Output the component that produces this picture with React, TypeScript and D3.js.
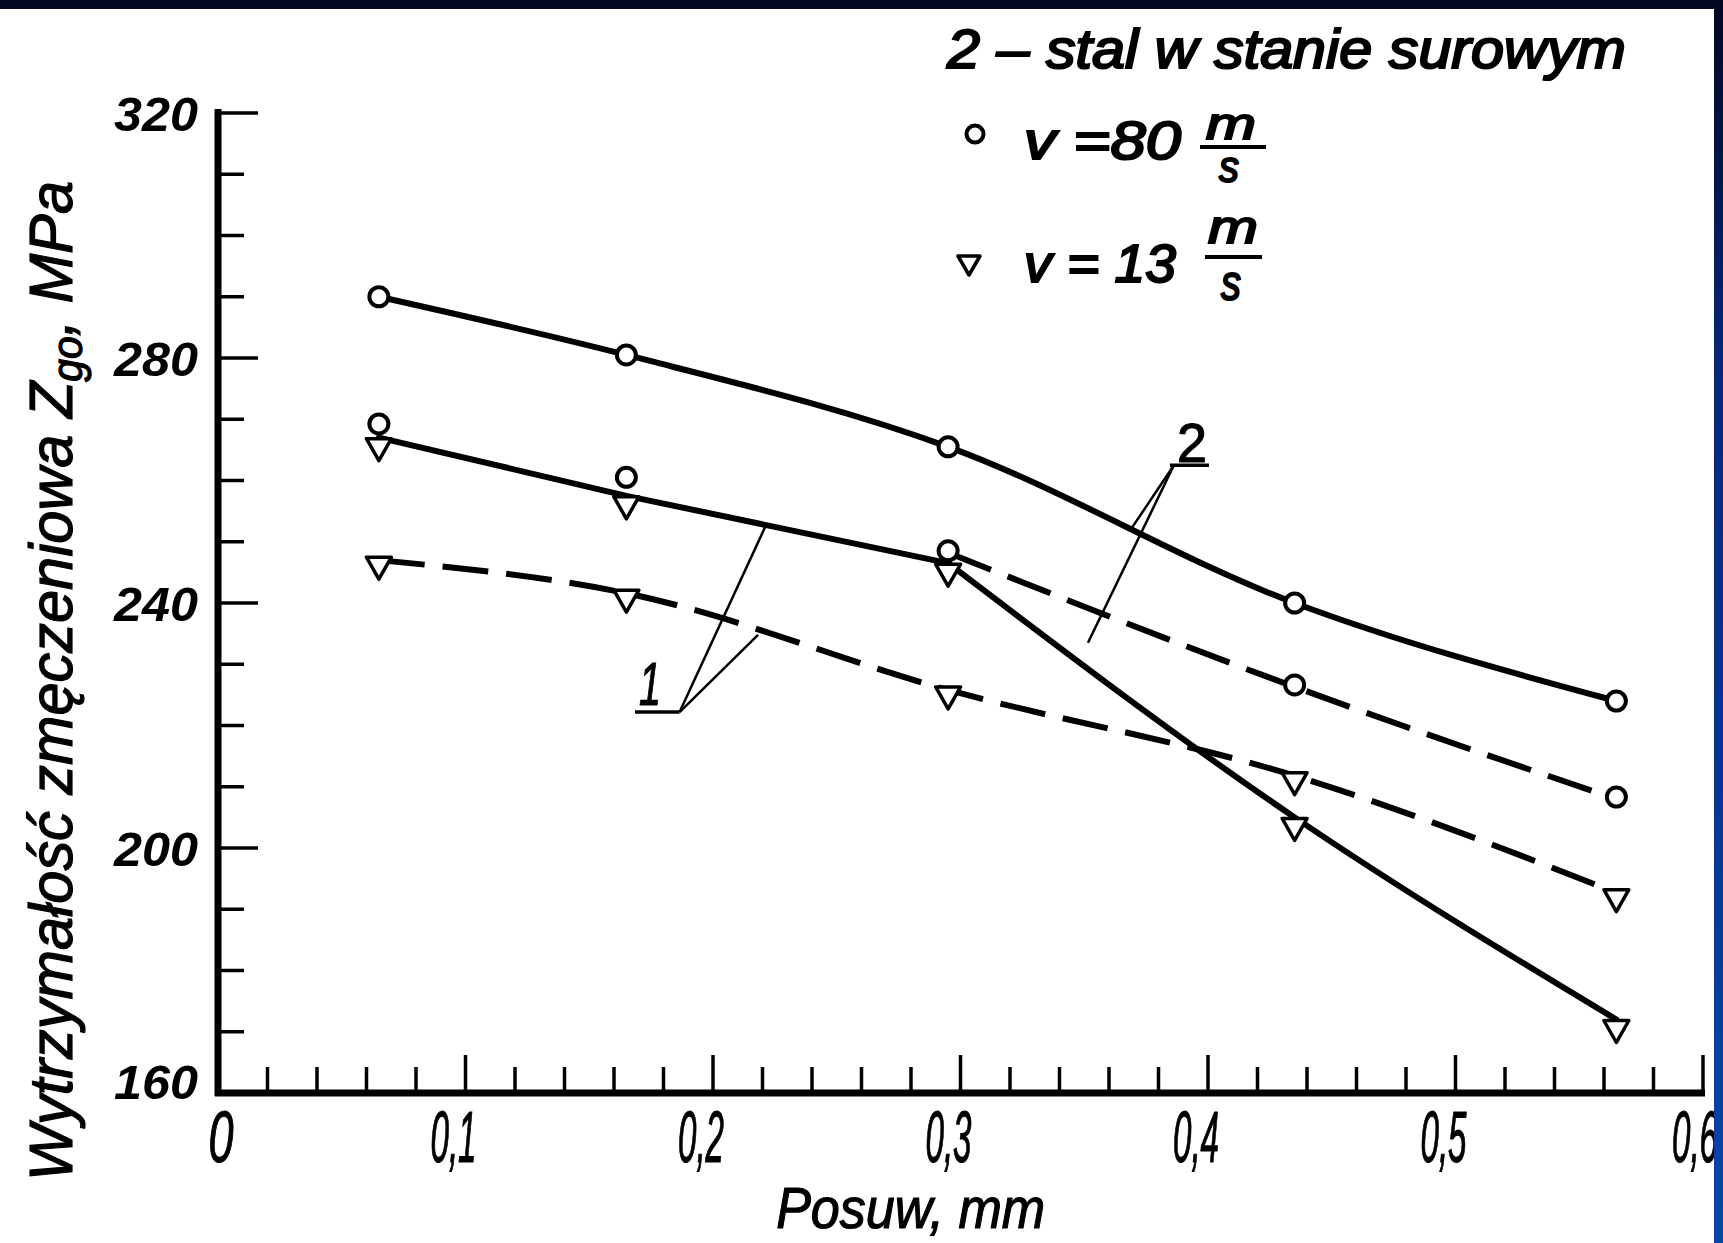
import React from 'react';
import * as d3 from 'd3';

// ---------- data ----------
const feed = [0.065, 0.165, 0.295, 0.435, 0.565];
// curve 2 (stal w stanie surowym), v = 80 m/s : solid, circles
const raw80 = [290, 280.5, 265.5, 240, 224];
// curve 2, v = 13 m/s : solid, triangles
const raw13 = [267, 257.5, 246.5, 205, 172];
const raw13BendAt = 2;
// curve 1, v = 80 m/s : circles, dashed beyond 0.3
const heat80 = [268.9, 260.2, 248.2, 226.3, 208];
const heat80DashFrom = 2;
// curve 1, v = 13 m/s : dashed, triangles
const heat13 = [247, 241.6, 225.8, 211.8, 192.7];

const yMajor = [160, 200, 240, 280, 320];
const yLabels = ['160', '200', '240', '280', '320'];
const xMajor = [0, 0.1, 0.2, 0.3, 0.4, 0.5, 0.6];
const xLabels = ['0', '0,1', '0,2', '0,3', '0,4', '0,5', '0,6'];

const yTitle = 'Wytrzymałość zmęczeniowa ';
const xTitle = 'Posuw, mm';
const legendTitle = '2 – stal w stanie surowym';
const legendV80 = 'v =80';
const legendV13 = 'v = 13';

// annotation anchors in data units [feed, MPa]
const ann1Label: [number, number] = [0.1745, 223.3];
const ann1Under: [number, number][] = [[0.1685, 222.2], [0.1865, 222.2]];
const ann1Targets: [number, number][] = [[0.2214, 252.7], [0.2182, 234.8]];
const ann2Label: [number, number] = [0.3935, 263];
const ann2Under: [number, number][] = [[0.3846, 262.5], [0.4004, 262.5]];
const ann2Targets: [number, number][] = [[0.3693, 252.3], [0.3515, 233.5]];

const W = 1723;
const H = 1243;
const FONT = "'Liberation Sans', Arial, sans-serif";

export default function App() {
  const x = d3.scaleLinear().domain([0, 0.6]).range([218, 1703]);
  const y = d3.scaleLinear().domain([160, 320]).range([1093, 113]);

  const smooth = d3
    .line<[number, number]>()
    .x((d) => x(d[0]))
    .y((d) => y(d[1]))
    .curve(d3.curveMonotoneX);
  const straight = d3
    .line<[number, number]>()
    .x((d) => x(d[0]))
    .y((d) => y(d[1]))
    .curve(d3.curveLinear);

  const pts = (vals: number[]) => vals.map((v, i) => [feed[i], v] as [number, number]);

  const yMinor = d3.range(160, 321, 10).filter((v) => !yMajor.includes(v));
  const xMinor = d3.range(0, 0.6001, 0.02).filter((v) => !xMajor.some((m) => Math.abs(m - v) < 1e-6));

  const circle = (cx: number, cy: number, key: string) => (
    <circle key={key} cx={cx} cy={cy} r={9.5} fill="#fff" stroke="#000" strokeWidth={4} />
  );
  const triHang = (cx: number, top: number, key: string) => (
    <path
      key={key}
      d={`M${cx - 12.5},${top} L${cx + 12.5},${top} L${cx},${top + 22} Z`}
      fill="#fff"
      stroke="#000"
      strokeWidth={3.5}
      strokeLinejoin="round"
    />
  );

  const lineStyle = { fill: 'none', stroke: '#000', strokeWidth: 6, strokeLinecap: 'round' as const };
  const ink = { stroke: '#000', strokeWidth: 1.2 };

  return (
    <svg
      width={W}
      height={H}
      viewBox={`0 0 ${W} ${H}`}
      style={{ position: 'fixed', left: 0, top: 0, display: 'block', background: '#fff' }}
    >
      <defs>
        <linearGradient id="rb" x1="0" y1="0" x2="0" y2="1">
          <stop offset="0" stopColor="#020822" />
          <stop offset="0.3" stopColor="#07287a" />
          <stop offset="1" stopColor="#0a44ae" />
        </linearGradient>
      </defs>
      <rect x={0} y={0} width={W} height={H} fill="#fff" />

      {/* y axis */}
      <line x1={x(0)} x2={x(0)} y1={y(320) - 4} y2={y(160) + 3} stroke="#000" strokeWidth={7} />
      {yMajor.map((v) => (
        <line key={'ym' + v} x1={x(0)} x2={x(0) + 40} y1={y(v)} y2={y(v)} stroke="#000" strokeWidth={3.5} />
      ))}
      {yMinor.map((v) => (
        <line key={'yn' + v} x1={x(0)} x2={x(0) + 26} y1={y(v)} y2={y(v)} stroke="#000" strokeWidth={3.5} />
      ))}
      {yMajor.map((v, i) => (
        <text
          key={'yl' + v}
          x={198}
          y={y(v) + (v === 160 ? 6 : 18)}
          textAnchor="end"
          fontFamily={FONT}
          fontStyle="italic"
          fontWeight="bold"
          fontSize={49}
          textLength={84}
          lengthAdjust="spacingAndGlyphs"
        >
          {yLabels[i]}
        </text>
      ))}

      {/* x axis */}
      <line x1={x(0) - 3} x2={x(0.6) + 2} y1={y(160)} y2={y(160)} stroke="#000" strokeWidth={7} />
      {xMajor.filter((v) => v > 0).map((v) => (
        <line key={'xm' + v} x1={x(v)} x2={x(v)} y1={y(160)} y2={y(160) - 38} stroke="#000" strokeWidth={3.5} />
      ))}
      {xMinor.map((v, i) => (
        <line key={'xn' + i} x1={x(v)} x2={x(v)} y1={y(160)} y2={y(160) - 26} stroke="#000" strokeWidth={3.5} />
      ))}
      {xMajor.map((v, i) => (
        <text
          key={'xl' + v}
          x={v === 0 ? x(v) + 3 : v === 0.6 ? x(v) - 8 : x(v) - 12}
          y={1162}
          textAnchor="middle"
          fontFamily={FONT}
          fontStyle="italic"
          fontSize={72}
          textLength={v === 0 ? 25 : 46}
          lengthAdjust="spacingAndGlyphs"
          {...ink}
        >
          {xLabels[i]}
        </text>
      ))}

      {/* axis titles */}
      <text
        x={(x(0.2) + x(0.35)) / 2 + 12}
        y={1228}
        textAnchor="middle"
        fontFamily={FONT}
        fontStyle="italic"
        fontSize={58}
        textLength={269}
        lengthAdjust="spacingAndGlyphs"
        {...ink}
      >
        {xTitle}
      </text>
      <text
        transform={`translate(72, ${(y(160) + y(320)) / 2 + 78}) rotate(-90)`}
        textAnchor="middle"
        fontFamily={FONT}
        fontStyle="italic"
        fontSize={61}
        textLength={1000}
        lengthAdjust="spacingAndGlyphs"
        {...ink}
      >
        {yTitle}
        <tspan>Z</tspan>
        <tspan dy={10} fontSize={42}>go</tspan>
        <tspan dy={-10}>, MPa</tspan>
      </text>

      {/* curves */}
      <path d={smooth(pts(raw80)) || ''} {...lineStyle} />
      <path d={straight(pts(raw13).slice(0, raw13BendAt + 1)) || ''} {...lineStyle} strokeLinejoin="round" />
      <path d={smooth(pts(raw13).slice(raw13BendAt)) || ''} {...lineStyle} />
      <path
        d={smooth(pts(heat80).slice(heat80DashFrom)) || ''}
        {...lineStyle}
        strokeLinecap="butt"
        strokeDasharray="46 18"
      />
      <path d={smooth(pts(heat13)) || ''} {...lineStyle} strokeLinecap="butt" strokeDasharray="46 18" />

      {/* markers */}
      {raw80.map((v, i) => circle(x(feed[i]), y(v), 'c80r' + i))}
      {heat80.map((v, i) => circle(x(feed[i]), y(v) - 2, 'c80h' + i))}
      {raw13.map((v, i) => triHang(x(feed[i]), y(v) + 1, 't13r' + i))}
      {heat13.map((v, i) => triHang(x(feed[i]), y(v) - 3, 't13h' + i))}

      {/* annotations */}
      <text
        x={x(ann1Label[0])}
        y={y(ann1Label[1])}
        textAnchor="middle"
        fontFamily={FONT}
        fontStyle="italic"
        fontSize={62}
        textLength={22}
        lengthAdjust="spacingAndGlyphs"
        {...ink}
      >
        1
      </text>
      <line
        x1={x(ann1Under[0][0])}
        x2={x(ann1Under[1][0])}
        y1={y(ann1Under[0][1])}
        y2={y(ann1Under[1][1])}
        stroke="#000"
        strokeWidth={3.5}
      />
      {ann1Targets.map((t, i) => (
        <line
          key={'a1' + i}
          x1={x(ann1Under[1][0])}
          y1={y(ann1Under[1][1])}
          x2={x(t[0])}
          y2={y(t[1])}
          stroke="#000"
          strokeWidth={2.5}
        />
      ))}
      <text
        x={x(ann2Label[0])}
        y={y(ann2Label[1])}
        textAnchor="middle"
        fontFamily={FONT}
        fontSize={56}
        textLength={30}
        lengthAdjust="spacingAndGlyphs"
        {...ink}
      >
        2
      </text>
      <line
        x1={x(ann2Under[0][0])}
        x2={x(ann2Under[1][0])}
        y1={y(ann2Under[0][1])}
        y2={y(ann2Under[1][1])}
        stroke="#000"
        strokeWidth={3.5}
      />
      {ann2Targets.map((t, i) => (
        <line
          key={'a2' + i}
          x1={x(ann2Under[0][0]) + 4}
          y1={y(ann2Under[0][1])}
          x2={x(t[0])}
          y2={y(t[1])}
          stroke="#000"
          strokeWidth={2.5}
        />
      ))}

      {/* legend */}
      <text
        x={947}
        y={68}
        fontFamily={FONT}
        fontStyle="italic"
        fontSize={56}
        textLength={679}
        lengthAdjust="spacingAndGlyphs"
        stroke="#000"
        strokeWidth={2.2}
      >
        {legendTitle}
      </text>
      <circle cx={975} cy={134} r={8.5} fill="#fff" stroke="#000" strokeWidth={4} />
      <text x={1024} y={159} fontFamily={FONT} fontStyle="italic" fontSize={54} textLength={157} lengthAdjust="spacingAndGlyphs" stroke="#000" strokeWidth={2.2}>
        {legendV80}
      </text>
      <text x={1231} y={139} textAnchor="middle" fontFamily={FONT} fontStyle="italic" fontSize={44} textLength={50} lengthAdjust="spacingAndGlyphs" stroke="#000" strokeWidth={2}>m</text>
      <line x1={1200} x2={1266} y1={147} y2={147} stroke="#000" strokeWidth={4} />
      <text x={1229} y={182} textAnchor="middle" fontFamily={FONT} fontStyle="italic" fontSize={44} textLength={20} lengthAdjust="spacingAndGlyphs" stroke="#000" strokeWidth={2}>s</text>

      <path d={`M${969 - 11},${256} L${969 + 11},${256} L${969},${275} Z`} fill="#fff" stroke="#000" strokeWidth={3.5} strokeLinejoin="round" />
      <text x={1024} y={282} fontFamily={FONT} fontStyle="italic" fontSize={54} textLength={152} lengthAdjust="spacingAndGlyphs" stroke="#000" strokeWidth={2.2}>
        {legendV13}
      </text>
      <text x={1233} y={243} textAnchor="middle" fontFamily={FONT} fontStyle="italic" fontSize={46} textLength={50} lengthAdjust="spacingAndGlyphs" stroke="#000" strokeWidth={2}>m</text>
      <line x1={1205} x2={1262} y1={257} y2={257} stroke="#000" strokeWidth={4} />
      <text x={1231} y={300} textAnchor="middle" fontFamily={FONT} fontStyle="italic" fontSize={50} textLength={20} lengthAdjust="spacingAndGlyphs" stroke="#000" strokeWidth={2}>s</text>

      {/* scan frame */}
      <rect x={0} y={0} width={W} height={9} fill="#020822" />
      <rect x={1714} y={0} width={W - 1714} height={H} fill="url(#rb)" />
    </svg>
  );
}
